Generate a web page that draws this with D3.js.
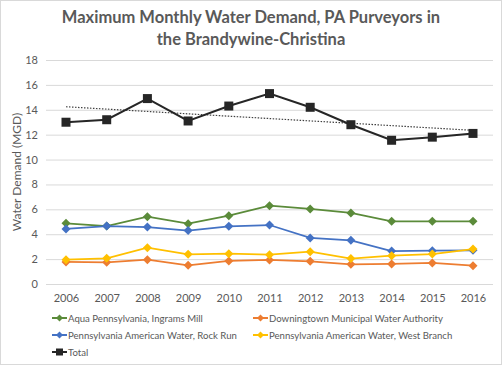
<!DOCTYPE html>
<html>
<head>
<meta charset="utf-8">
<script src="https://cdn.jsdelivr.net/npm/d3@7"></script>
<style>
  body { margin: 0; background: #fff; }
  text { font-family: Lato, "Open Sans", sans-serif; fill: #595959; }
</style>
</head>
<body>
<div id="chart"></div>
<script>
"use strict";

const years = [2006, 2007, 2008, 2009, 2010, 2011, 2012, 2013, 2014, 2015, 2016];
const aqua = [4.88, 4.66, 5.41, 4.85, 5.49, 6.29, 6.03, 5.71, 5.04, 5.04, 5.04];
const downingtown = [1.77, 1.74, 1.95, 1.50, 1.85, 1.93, 1.82, 1.58, 1.61, 1.69, 1.47];
const rockRun = [4.42, 4.66, 4.58, 4.29, 4.64, 4.74, 3.70, 3.51, 2.65, 2.68, 2.71];
const westBranch = [1.95, 2.06, 2.92, 2.39, 2.44, 2.36, 2.60, 2.04, 2.28, 2.41, 2.81];
const total = [13.0, 13.2, 14.9, 13.1, 14.3, 15.3, 14.2, 12.8, 11.55, 11.8, 12.1];
const yTicks = [0, 2, 4, 6, 8, 10, 12, 14, 16, 18];

const seriesList = [
  {name: "Aqua Pennsylvania, Ingrams Mill", values: aqua, color: "#5b8b3a", shape: "diamond"},
  {name: "Downingtown Municipal Water Authority", values: downingtown, color: "#ed7d31", shape: "diamond"},
  {name: "Pennsylvania American Water, Rock Run", values: rockRun, color: "#4472c4", shape: "diamond"},
  {name: "Pennsylvania American Water, West Branch", values: westBranch, color: "#ffc000", shape: "diamond"},
  {name: "Total", values: total, color: "#262626", shape: "square"}
];

const W = 502, H = 365;
const svg = d3.select("#chart").append("svg").attr("width", W).attr("height", H);

svg.append("rect").attr("x", 0.5).attr("y", 0.5).attr("width", W - 1).attr("height", H - 1)
  .attr("fill", "#fff").attr("stroke", "#d9d9d9");

// title
const title = svg.append("text").attr("text-anchor", "middle").attr("font-size", 16.5).attr("font-weight", "bold");
title.append("tspan").attr("x", 251).attr("y", 23).text("Maximum Monthly Water Demand, PA Purveyors in");
title.append("tspan").attr("x", 251).attr("y", 45).text("the Brandywine-Christina");

const x = d3.scalePoint().domain(years).range([66, 473]);
const y = d3.scaleLinear().domain([0, 18]).range([284, 60]);

// gridlines
svg.append("g").selectAll("line").data(yTicks).enter().append("line")
  .attr("x1", 46).attr("x2", 493)
  .attr("y1", d => y(d) + 0.5).attr("y2", d => y(d) + 0.5)
  .attr("stroke", "#d9d9d9").attr("stroke-width", 1);

const yAxis = svg.append("g").attr("transform", "translate(40,0)")
  .call(d3.axisLeft(y).tickValues(yTicks).tickSize(0).tickPadding(2));
yAxis.select(".domain").remove();
yAxis.selectAll("text").attr("font-size", 11).attr("fill", "#595959")
  .style("font-family", "Lato, sans-serif");

const xAxis = svg.append("g").attr("transform", "translate(0,291)")
  .call(d3.axisBottom(x).tickSize(0).tickPadding(3).tickFormat(d3.format("d")));
xAxis.select(".domain").remove();
xAxis.selectAll("text").attr("font-size", 11).attr("fill", "#595959")
  .style("font-family", "Lato, sans-serif");

svg.append("text").attr("transform", "translate(21,172) rotate(-90)")
  .attr("text-anchor", "middle").attr("font-size", 12).text("Water Demand (MGD)");

// linear trendline for Total (least squares)
const n = years.length;
const mx = d3.mean(d3.range(n)), my = d3.mean(total);
const slope = d3.sum(d3.range(n), i => (i - mx) * (total[i] - my)) / d3.sum(d3.range(n), i => (i - mx) * (i - mx));
const icpt = my - slope * mx;
svg.append("line")
  .attr("x1", x(years[0])).attr("y1", y(icpt))
  .attr("x2", x(years[n - 1])).attr("y2", y(icpt + slope * (n - 1)))
  .attr("stroke", "#404040").attr("stroke-width", 1.2).attr("stroke-dasharray", "1.5,1.5");

const line = d3.line().x((d, i) => x(years[i])).y(d => y(d));

function marker(g, shape, color, cx, cy, s) {
  if (shape === "square") {
    g.append("rect").attr("x", cx - s).attr("y", cy - s).attr("width", 2 * s).attr("height", 2 * s)
      .attr("fill", color);
  } else {
    g.append("path").attr("d", `M${cx},${cy - s}L${cx + s},${cy}L${cx},${cy + s}L${cx - s},${cy}Z`)
      .attr("fill", color);
  }
}

seriesList.forEach(function(s) {
  const g = svg.append("g");
  g.append("path").attr("d", line(s.values)).attr("fill", "none")
    .attr("stroke", s.color).attr("stroke-width", s.shape === "square" ? 2 : 1.75);
  s.values.forEach(function(v, i) {
    marker(g, s.shape, s.color, x(years[i]), y(v), 4.5);
  });
});

// legend
const legendPos = [[52, 318], [253, 318], [52, 335], [253, 335], [52, 352]];
seriesList.forEach(function(s, i) {
  const lx = legendPos[i][0], ly = legendPos[i][1];
  const g = svg.append("g");
  g.append("line").attr("x1", lx).attr("x2", lx + 15).attr("y1", ly).attr("y2", ly)
    .attr("stroke", s.color).attr("stroke-width", 2);
  marker(g, s.shape, s.color, lx + 7.5, ly, 3.5);
  g.append("text").attr("x", lx + 16).attr("y", ly + 3.5).attr("font-size", 9.6).text(s.name);
});
</script>
</body>
</html>
